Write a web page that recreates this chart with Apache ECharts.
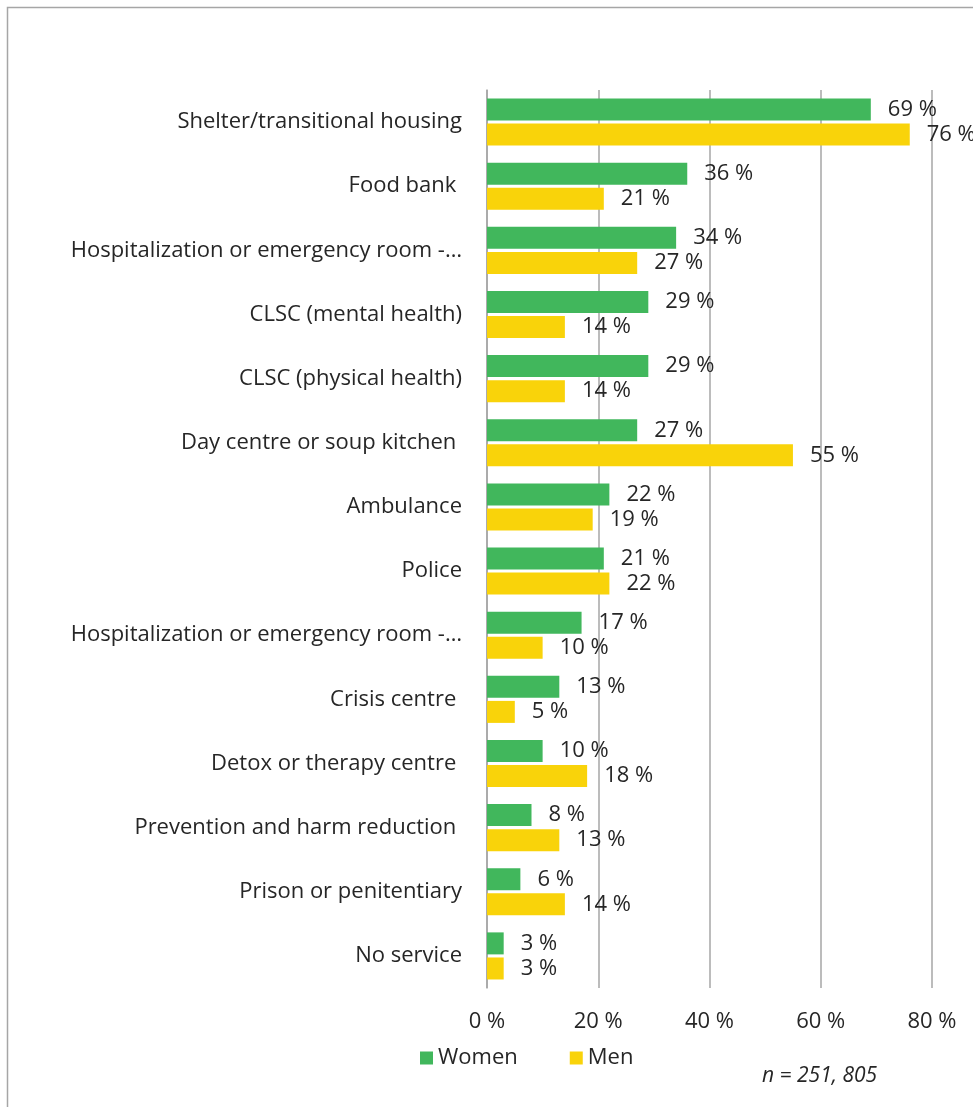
<!DOCTYPE html>
<html>
<head>
<meta charset="utf-8">
<script src="https://cdn.jsdelivr.net/npm/echarts@6/dist/echarts.min.js"></script>
<style>
html, body { margin: 0; padding: 0; background: #fff; }
#chart { width: 973px; height: 1107px; }
</style>
</head>
<body>
<div id="chart"></div>
<script>
var myChart = echarts.init(document.getElementById('chart'));

// categories, top to bottom
var categories = [
    'Shelter/transitional housing',
    'Food bank ',
    'Hospitalization or emergency room -…',
    'CLSC (mental health)',
    'CLSC (physical health)',
    'Day centre or soup kitchen ',
    'Ambulance',
    'Police',
    'Hospitalization or emergency room -…',
    'Crisis centre ',
    'Detox or therapy centre ',
    'Prevention and harm reduction ',
    'Prison or penitentiary',
    'No service'
];
var women = [69, 36, 34, 29, 29, 27, 22, 21, 17, 13, 10, 8, 6, 3];
var men = [76, 21, 27, 14, 14, 55, 19, 22, 10, 5, 18, 13, 14, 3];
var xTicks = [0, 20, 40, 60, 80];

var font = 'Open Sans';
var textColor = '#262626';

var labelStyle = {
    show: true,
    position: 'right',
    distance: 17,
    fontFamily: font,
    fontSize: 22,
    color: textColor,
    formatter: function (p) { return p.value + ' %'; }
};

option = {
    animation: false,
    textStyle: { fontFamily: font },
    grid: {
        left: 487,
        right: 41,
        top: 90,
        bottom: 119,
        containLabel: false
    },
    legend: {
        data: ['Women', 'Men'],
        left: 415,
        top: 1042,
        itemWidth: 13,
        itemHeight: 13,
        itemGap: 52,
        icon: 'rect',
        textStyle: { fontFamily: font, fontSize: 22, color: textColor }
    },
    xAxis: {
        type: 'value',
        min: xTicks[0],
        max: xTicks[xTicks.length - 1],
        interval: 20,
        axisLine: { show: false },
        axisTick: { show: false },
        splitLine: { lineStyle: { color: '#a6a6a6', width: 1.5 } },
        axisLabel: {
            fontFamily: font,
            fontSize: 22,
            color: textColor,
            margin: 23,
            formatter: function (v) { return v + ' %'; }
        }
    },
    yAxis: {
        type: 'category',
        inverse: true,
        data: categories,
        axisLine: { lineStyle: { color: '#a6a6a6', width: 1.5 } },
        axisTick: { show: false },
        axisLabel: {
            fontFamily: font,
            fontSize: 22,
            color: textColor,
            margin: 25
        }
    },
    series: [
        {
            name: 'Women',
            type: 'bar',
            data: women,
            barWidth: 22,
            barGap: '14%',
            itemStyle: { color: '#41b75c' },
            label: labelStyle
        },
        {
            name: 'Men',
            type: 'bar',
            data: men,
            barWidth: 22,
            barGap: '14%',
            itemStyle: { color: '#f9d30a' },
            label: labelStyle
        }
    ],
    graphic: [
        {
            type: 'polyline',
            shape: { points: [[7.5, 1107], [7.5, 7.5], [973, 7.5]] },
            style: { stroke: '#a6a6a6', lineWidth: 1.5, fill: null }
        },
        {
            type: 'text',
            left: 762,
            top: 1066,
            style: {
                text: 'n = 251, 805',
                fontFamily: font,
                fontStyle: 'italic',
                fontSize: 21,
                fill: textColor
            }
        }
    ]
};

myChart.setOption(option);
</script>
</body>
</html>
